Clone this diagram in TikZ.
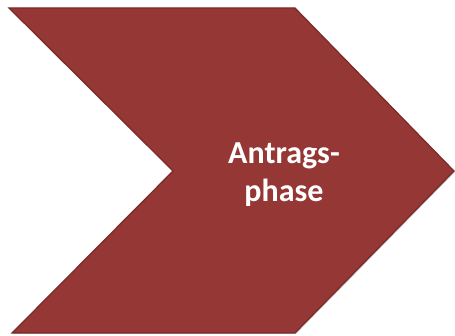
\documentclass[tikz,border=0pt]{standalone}
\usepackage{fontspec}
\setmainfont{Carlito}
\definecolor{chev}{HTML}{953735}
\definecolor{chevline}{HTML}{7A2A28}
\begin{document}
\begin{tikzpicture}[x=1pt,y=-1pt,
  chevshape/.style={fill=chev, draw=chevline, line width=1.2pt, line join=miter},
  label/.style={text=white, font=\bfseries\fontsize{32}{38}\selectfont, align=center}]
\useasboundingbox (0,0) rectangle (455,336);
\fill[black!20] (10,9) -- (296,9) -- (455,172) -- (296,334) -- (13,334) -- (174,172) -- cycle;
\draw[chevshape] (9,8) -- (295,8) -- (454,171) -- (295,333) -- (12,333) -- (173,171) -- cycle;
\node[label] (t) at (284,175) {Antrags-\\phase};
\end{tikzpicture}
\end{document}
